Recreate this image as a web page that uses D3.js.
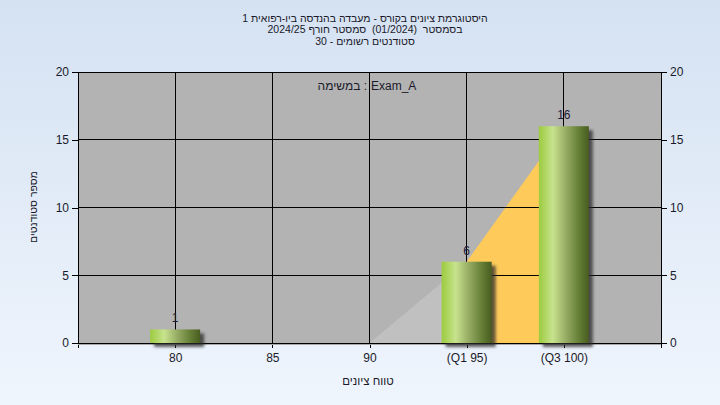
<!DOCTYPE html>
<html><head><meta charset="utf-8">
<script src="https://cdn.jsdelivr.net/npm/d3@7"></script>
<style>
html,body{margin:0;padding:0;background:#fff;}
svg{display:block;font-family:"Liberation Sans",Arial,sans-serif;}
</style></head>
<body><svg id="c" width="720" height="405"></svg>
<script>
const titleLines = ["היסטוגרמת ציונים בקורס - מעבדה בהנדסה ביו-רפואית 1",
                    "בסמסטר  (01/2024)  סמסטר חורף 2024/25",
                    "סטודנטים רשומים - 30"];
const categories = ["80","85","90","(Q1 95)","(Q3 100)"];
const grades = [80,85,90,95,100];
const counts = [1,0,0,6,16];
const areaValues = [0,0,0,6,16];
const yTicks = [0,5,10,15,20];
const legendLabel = "במשימה :";
const legendValue = "Exam_A";
const xTitle = "טווח ציונים";
const yTitle = "מספר סטודנטים";

const svg = d3.select("#c");
const W = 720, H = 405;
const L = 78, R = 661, T = 72, B = 343;
const x = d3.scaleLinear().domain([75,105]).range([L,R]);
const y = d3.scaleLinear().domain([0,20]).range([B,T]);
const txtColor = "#1a1a2a";

// right-to-left line: words laid out from the right, first word rightmost
function rtlLine(parent, s, cx, by, size){
  const g = parent.append("g");
  const probe = g.append("text").attr("font-size",size).text("\u00a0");
  const spaceW = probe.node().getComputedTextLength() || size*0.28;
  probe.remove();
  const parts = s.split(/( +)/).filter(p=>p.length);
  const items = []; let total = 0;
  parts.forEach(p=>{
    if(/^ +$/.test(p)){ items.push({gap: spaceW*p.length}); total += spaceW*p.length; return; }
    const el = g.append("text").attr("font-size",size).attr("fill",txtColor).attr("y",by)
      .attr("text-anchor","end").text(p);
    const w = el.node().getComputedTextLength();
    items.push({el,w}); total += w;
  });
  let pos = cx + total/2;
  items.forEach(it=>{
    if(it.gap!==undefined){ pos -= it.gap; return; }
    it.el.attr("x",pos); pos -= it.w;
  });
  return g;
}

const defs = svg.append("defs");
const bg = defs.append("linearGradient").attr("id","bg").attr("x1",0).attr("y1",0).attr("x2",0).attr("y2",1);
bg.append("stop").attr("offset","0%").attr("stop-color","#D5E2F2");
bg.append("stop").attr("offset","100%").attr("stop-color","#EFF5FD");
const bar = defs.append("linearGradient").attr("id","bar").attr("x1",0).attr("y1",0).attr("x2",1).attr("y2",0);
[["0%","#9CCB3E"],["28%","#C7E38E"],["55%","#95AA62"],["80%","#657F36"],["100%","#485C20"]]
  .forEach(([o,c])=>bar.append("stop").attr("offset",o).attr("stop-color",c));
const f = defs.append("filter").attr("id","sh").attr("x","-20%").attr("y","-20%").attr("width","150%").attr("height","150%");
f.append("feGaussianBlur").attr("stdDeviation",1.6);

svg.append("rect").attr("width",W).attr("height",H).attr("fill","url(#bg)");

// titles
const tl = [22,33,45];
titleLines.forEach((t,i)=>rtlLine(svg, t, 365, tl[i], 10.5));

// plot area
svg.append("rect").attr("x",L).attr("y",T).attr("width",R-L).attr("height",B-T).attr("fill","#B3B3B3");

// area segments
const pts = grades.map((g,i)=>[x(g), y(areaValues[i])]);
for(let i=0;i<pts.length-1;i++){
  const a = pts[i], b = pts[i+1];
  if(areaValues[i]===0 && areaValues[i+1]===0) continue;
  const poly = [[a[0],B],a,b,[b[0],B]];
  svg.append("path").attr("d", d3.line()(poly)+"Z")
    .attr("fill", i===pts.length-2 ? "#FECB5A" : "#C0C0C0");
}

// gridlines
svg.append("g").selectAll("line").data(yTicks.filter(v=>v>0&&v<20)).join("line")
  .attr("x1",L).attr("x2",R).attr("y1",d=>y(d)).attr("y2",d=>y(d)).attr("stroke","#000").attr("shape-rendering","crispEdges");
svg.append("g").selectAll("line").data(grades).join("line")
  .attr("x1",d=>x(d)).attr("x2",d=>x(d)).attr("y1",T).attr("y2",B).attr("stroke","#000").attr("shape-rendering","crispEdges");

// axes
const yl = svg.append("g").attr("transform",`translate(${L},0)`).call(d3.axisLeft(y).tickValues(yTicks).tickSize(6).tickPadding(3));
const yr = svg.append("g").attr("transform",`translate(${R},0)`).call(d3.axisRight(y).tickValues(yTicks).tickSize(6).tickPadding(3));
const xa = svg.append("g").attr("transform",`translate(0,${B})`).call(d3.axisBottom(x).tickValues(grades).tickFormat((d,i)=>categories[i]).tickSize(5).tickPadding(5));
[yl,yr,xa].forEach(g=>{
  g.select(".domain").remove();
  g.selectAll("line").attr("stroke","#000").attr("shape-rendering","crispEdges");
  g.selectAll("text").attr("font-size",12).attr("fill",txtColor).attr("font-family","Liberation Sans, Arial, sans-serif");
});
// frame
const frame = [[L,T,R,T],[L,B,R,B],[L,T,L,B+5],[R,T,R,B+5]];
svg.append("g").selectAll("line").data(frame).join("line")
  .attr("x1",d=>d[0]).attr("y1",d=>d[1]).attr("x2",d=>d[2]).attr("y2",d=>d[3])
  .attr("stroke","#000").attr("shape-rendering","crispEdges");
svg.append("line").attr("x1",L).attr("x2",R).attr("y1",B+1.5).attr("y2",B+1.5).attr("stroke","#a8a8a8").attr("stroke-width",1);

// bars
const bw = 50;
const bars = svg.append("g");
grades.forEach((g,i)=>{
  if(counts[i]<=0) return;
  const x0 = x(g)-bw/2, y0 = y(counts[i]);
  bars.append("rect").attr("x",x0+4).attr("y",y0+4).attr("width",bw).attr("height",B-y0)
    .attr("fill","#2a2a2a").attr("opacity",0.75).attr("filter","url(#sh)");
  bars.append("rect").attr("x",x0).attr("y",y0).attr("width",bw).attr("height",B-y0).attr("fill","url(#bar)");
  bars.append("text").attr("x",x(g)).attr("y",y0-7).attr("text-anchor","middle").attr("font-size",12)
    .attr("fill","#1a1a3a").text(counts[i]);
});

// legend
svg.append("text").attr("x",367).attr("y",90).attr("text-anchor","end").attr("font-size",12).attr("fill",txtColor).text("\u200E"+legendLabel);
svg.append("text").attr("x",371).attr("y",90).attr("text-anchor","start").attr("font-size",12).attr("fill",txtColor).text(legendValue);

// axis titles
rtlLine(svg, xTitle, 368, 385, 11.5);
const yt = svg.append("g").attr("transform","translate(37,207) rotate(-90)");
rtlLine(yt, yTitle, 0, 0, 10.5);
</script></body></html>
